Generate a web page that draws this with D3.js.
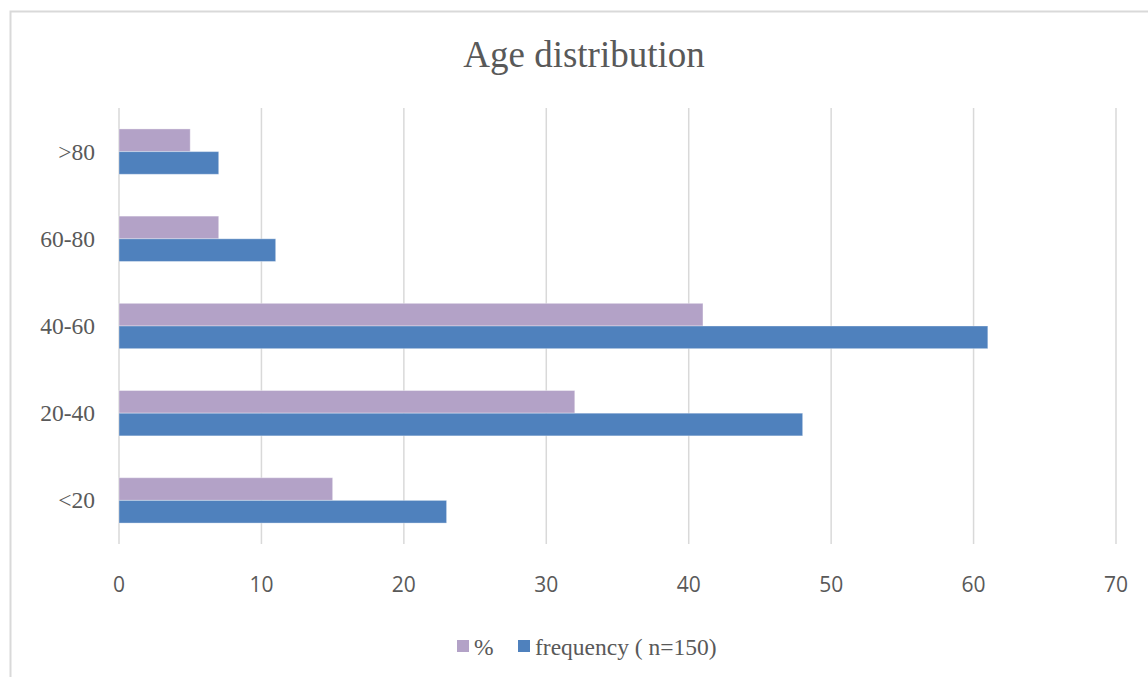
<!DOCTYPE html>
<html>
<head>
<meta charset="utf-8">
<script src="https://cdn.jsdelivr.net/npm/d3@7"></script>
<style>
  body { margin: 0; background: #fff; }
</style>
</head>
<body>
<div id="chart"></div>
<script>
// chart values
var categories = [">80", "60-80", "40-60", "20-40", "<20"];
var seriesNames = ["%", "frequency ( n=150)"];
var percentValues = [5, 7, 41, 32, 15];
var frequencyValues = [7, 11, 61, 48, 23];
var xTicks = [0, 10, 20, 30, 40, 50, 60, 70];

var colors = ["#b3a2c7", "#4f81bd"];

var W = 1148, H = 677;
var margin = {top: 108, right: 32, bottom: 133, left: 119};

var svg = d3.select("#chart").append("svg")
    .attr("width", W)
    .attr("height", H);

// outer chart border
svg.append("rect")
    .attr("x", 10.5).attr("y", 11.5)
    .attr("width", W + 20).attr("height", H + 20)
    .attr("fill", "none")
    .attr("stroke", "#d9d9d9")
    .attr("stroke-width", 2);

svg.append("text")
    .text("Age distribution")
    .attr("x", 584).attr("y", 67)
    .attr("text-anchor", "middle")
    .style("font-family", "'Liberation Serif', 'Times New Roman', serif")
    .style("font-size", "37px")
    .style("fill", "#595959");

var g = svg.append("g")
    .attr("transform", "translate(" + margin.left + "," + margin.top + ")");

var x = d3.scaleLinear().domain([0, 70]).range([0, 997]);
var y = d3.scaleBand().domain(categories).range([0, 436]).paddingInner(0.48).paddingOuter(0.24);
var ySub = d3.scaleBand().domain([0, 1]).range([0, y.bandwidth()]);

// gridlines
g.selectAll(".grid")
    .data(xTicks)
    .enter().append("line")
    .attr("x1", function(d) { return x(d); })
    .attr("x2", function(d) { return x(d); })
    .attr("y1", 0)
    .attr("y2", 436)
    .attr("stroke", "#d9d9d9")
    .attr("stroke-width", 1.5);

// tick labels
g.selectAll(".tick-label")
    .data(xTicks)
    .enter().append("text")
    .text(function(d) { return d; })
    .attr("x", function(d) { return x(d); })
    .attr("y", 484)
    .attr("text-anchor", "middle")
    .style("font-family", "'Open Sans', sans-serif")
    .style("font-size", "21px")
    .style("fill", "#595959");

// category labels
g.selectAll(".cat-label")
    .data(categories)
    .enter().append("text")
    .text(function(d) { return d; })
    .attr("x", -24)
    .attr("y", function(d) { return y(d) + y.bandwidth() / 2 + 8; })
    .attr("text-anchor", "end")
    .style("font-family", "'Liberation Serif', 'Times New Roman', serif")
    .style("font-size", "23.5px")
    .style("fill", "#595959");

var series = [percentValues, frequencyValues];
series.forEach(function(vals, si) {
    g.selectAll(".bar" + si)
        .data(vals)
        .enter().append("rect")
        .attr("x", x(0))
        .attr("y", function(d, i) { return y(categories[i]) + ySub(si); })
        .attr("width", function(d) { return x(d) - x(0); })
        .attr("height", ySub.bandwidth())
        .attr("fill", colors[si])
        .attr("stroke", "#ffffff")
        .attr("stroke-opacity", 0.35)
        .attr("stroke-width", 1);
});

// legend
var legendItems = [{name: seriesNames[0], x: 457}, {name: seriesNames[1], x: 518}];
var legend = svg.selectAll(".legend")
    .data(legendItems)
    .enter().append("g")
    .attr("transform", function(d) { return "translate(" + d.x + ",640)"; });
legend.append("rect")
    .attr("width", 12).attr("height", 12)
    .attr("fill", function(d, i) { return colors[i]; });
legend.append("text")
    .text(function(d) { return d.name; })
    .attr("x", 17).attr("y", 15)
    .style("font-family", "'Liberation Serif', 'Times New Roman', serif")
    .style("font-size", "23.5px")
    .style("fill", "#595959");
</script>
</body>
</html>
